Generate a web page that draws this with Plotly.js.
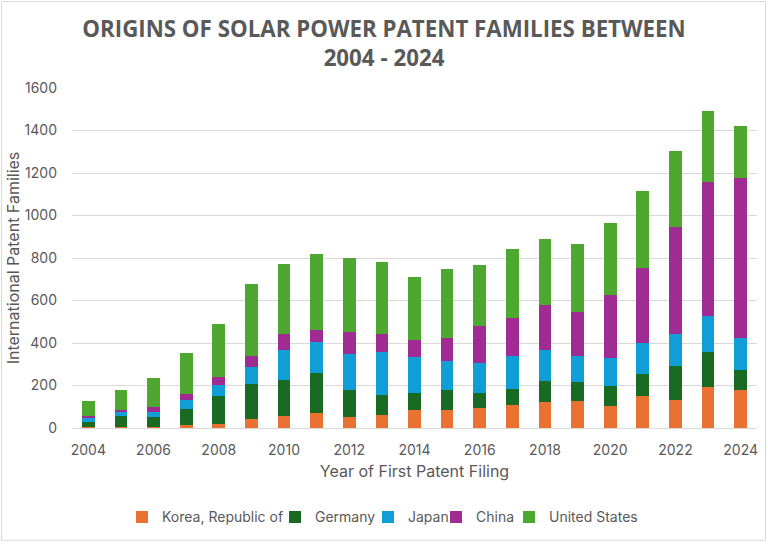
<!DOCTYPE html>
<html>
<head>
<meta charset="utf-8">
<script src="https://cdn.plot.ly/plotly-3.0.1.min.js"></script>
<style>
html,body{margin:0;padding:0;background:#fff;}
#chart{width:768px;height:545px;}
</style>
</head>
<body>
<div id="chart"></div>
<script>
var years = ["2004","2005","2006","2007","2008","2009","2010","2011","2012","2013","2014","2015","2016","2017","2018","2019","2020","2021","2022","2023","2024"];
var tickLabels = ["2004","2006","2008","2010","2012","2014","2016","2018","2020","2022","2024"];
var korea   = [3, 5, 5, 12, 20, 44, 56, 72, 52, 59, 83, 86, 92, 109, 122, 125, 103, 150, 131, 194, 177];
var germany = [24, 53, 48, 79, 132, 162, 172, 187, 126, 94, 80, 94, 71, 74, 100, 91, 94, 102, 160, 164, 96];
var japan   = [20, 17, 22, 39, 50, 83, 141, 144, 169, 205, 171, 133, 142, 155, 145, 123, 131, 146, 150, 170, 149];
var china   = [11, 8, 22, 28, 39, 49, 75, 58, 106, 86, 82, 110, 173, 182, 210, 208, 300, 355, 506, 628, 755];
var usa     = [67, 97, 136, 197, 250, 339, 328, 356, 345, 336, 295, 327, 288, 324, 314, 319, 336, 360, 356, 338, 243];

var seriesNames = ["Korea, Republic of", "Germany", "Japan", "China", "United States"];
var seriesData = [korea, germany, japan, china, usa];
var colors = ["#E97132", "#196B24", "#0F9ED5", "#A02B93", "#4EA72E"];

var legendIds = ["legend", "legend2", "legend3", "legend4", "legend5"];
var traces = seriesData.map(function(d, i){
  return {
    type: "bar",
    name: seriesNames[i],
    x: years,
    y: d,
    legend: legendIds[i],
    marker: {color: colors[i], line: {width: 0}},
    hoverinfo: "x+y+name"
  };
});

var font = "Inter, 'Open Sans', 'Liberation Sans', sans-serif";
var legendFont = {family: font, size: 14, color: "#595959"};
// left pixel of each legend box (layout only)
var legendLeftPx = [122, 275, 368, 436, 509];
var plotLeft = 72, plotWidth = 685;

var layout = {
  width: 768,
  height: 545,
  barmode: "stack",
  bargap: 0.61,
  paper_bgcolor: "#ffffff",
  plot_bgcolor: "#ffffff",
  margin: {l: 72, r: 11, t: 88, b: 115},
  title: {
    text: "<b>ORIGINS OF SOLAR POWER PATENT FAMILIES BETWEEN<br>2004 - 2024</b>",
    font: {family: "'Open Sans', 'Liberation Sans', sans-serif", size: 22.3, color: "#595959"},
    x: 0.5, xref: "container", xanchor: "center",
    y: 0.932, yref: "container", yanchor: "middle"
  },
  xaxis: {
    type: "category",
    tickmode: "array",
    tickvals: tickLabels,
    ticktext: tickLabels,
    showgrid: false,
    showline: true,
    linecolor: "#D9D9D9",
    linewidth: 1,
    ticks: "",
    ticklabelstandoff: 9,
    tickfont: {family: font, size: 14, color: "#595959"},
    title: {text: "Year of First Patent Filing", font: {family: font, size: 16, color: "#595959"}, standoff: 9},
    automargin: false
  },
  yaxis: {
    range: [0, 1600],
    dtick: 200,
    showgrid: true,
    gridcolor: "#D9D9D9",
    gridwidth: 1,
    zeroline: false,
    showline: false,
    ticks: "",
    ticklabelstandoff: 14,
    tickfont: {family: font, size: 14, color: "#595959"},
    title: {text: "International Patent Families", font: {family: font, size: 16, color: "#595959"}},
    automargin: false
  },
  shapes: [{
    type: "rect", xref: "paper", yref: "paper",
    x0: (1.5 - 72) / 685, x1: (765.5 - 72) / 685,
    y0: (430 - 543) / 342, y1: (430 - 1) / 342,
    line: {color: "#D9D9D9", width: 1},
    fillcolor: "rgba(0,0,0,0)",
    layer: "below"
  }],
  showlegend: true
};

legendIds.forEach(function(id, i){
  layout[id] = {
    orientation: "h",
    x: (legendLeftPx[i] - plotLeft) / plotWidth,
    xanchor: "left",
    y: -0.263, yanchor: "middle",
    font: legendFont,
    itemwidth: 30,
    bgcolor: "rgba(0,0,0,0)",
    borderwidth: 0
  };
});

Plotly.newPlot("chart", traces, layout, {displayModeBar: false, staticPlot: true});
</script>
</body>
</html>
